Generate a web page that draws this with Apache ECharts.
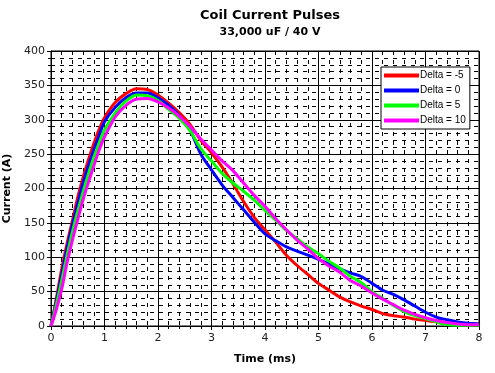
<!DOCTYPE html>
<html>
<head>
<meta charset="utf-8">
<script src="https://cdn.jsdelivr.net/npm/echarts@6/dist/echarts.min.js"></script>
<style>
html,body{margin:0;padding:0;background:#fff;}
#chart{width:495px;height:373px;}
</style>
</head>
<body>
<div id="chart"></div>
<script>
var times = [0, 0.1, 0.2, 0.3, 0.4, 0.5, 0.6, 0.7, 0.8, 0.9, 1.0, 1.2, 1.4, 1.6, 1.8, 2.0, 2.2, 2.4, 2.6, 2.8, 3.0, 3.2, 3.4, 3.6, 3.8, 4.0, 4.2, 4.4, 4.6, 4.8, 5.0, 5.2, 5.4, 5.6, 5.8, 6.0, 6.2, 6.4, 6.6, 6.8, 7.0, 7.2, 7.4, 7.6, 7.8, 8.0];
var deltaMinus5 = [0, 40, 83, 120, 153, 187, 216, 242, 265, 286, 303, 325, 338, 345, 344, 336, 324, 310, 293, 270, 252, 231, 207, 181, 158, 140, 122, 103, 88, 75, 62, 52, 42, 35, 29, 24, 18, 15, 13, 10, 8, 6, 4, 3, 3, 3];
var delta0 = [0, 36, 75, 113, 147, 178, 208, 233, 256, 277, 297, 318, 332, 339, 339, 332, 321, 306, 285, 250, 227, 205, 187, 169, 151, 134, 124, 115, 109, 103, 97, 90, 83, 77, 72, 62, 52, 46, 38, 29, 20, 13, 9, 6, 4, 3];
var delta5 = [0, 31, 66, 103, 137, 167, 195, 221, 245, 266, 285, 310, 327, 336, 335, 328, 315, 302, 284, 258, 240, 222, 208, 196, 183, 168, 154, 139, 127, 115, 105, 94, 84, 72, 63, 50, 40, 30, 21, 15, 11, 6, 2, 1, 1, 1];
var delta10 = [0, 24, 54, 92, 125, 155, 184, 209, 233, 256, 275, 304, 321, 330, 331, 326, 317, 305, 290, 272, 256, 240, 226, 208, 190, 174, 156, 140, 125, 112, 98, 87, 78, 66, 58, 48, 39, 31, 23, 17, 12, 8, 5, 3, 2, 2];
var seriesNames = ['Delta = -5', 'Delta = 0', 'Delta = 5', 'Delta = 10'];
var seriesColors = ['#ff0000', '#0000ff', '#00ff00', '#ff00ff'];
var xTicks = [0, 1, 2, 3, 4, 5, 6, 7, 8];
var yTicks = [0, 50, 100, 150, 200, 250, 300, 350, 400];

function pairs(vals) {
  return times.map(function (t, i) { return [t, vals[i]]; });
}
var allVals = [deltaMinus5, delta0, delta5, delta10];

var chart = echarts.init(document.getElementById('chart'), null, {renderer: 'canvas'});
var FONT = 'DejaVu Sans';
var option = {
  animation: false,
  backgroundColor: '#fff',
  title: [
    {text: 'Coil Current Pulses', left: 265, top: 4, textAlign: 'center',
     textStyle: {fontFamily: FONT, fontWeight: 'bold', fontSize: 13, color: '#000'}},
    {text: '33,000 uF / 40 V', left: 265, top: 22, textAlign: 'center',
     textStyle: {fontFamily: FONT, fontWeight: 'bold', fontSize: 11, color: '#000'}}
  ],
  legend: {
    orient: 'vertical',
    left: 381, top: 67,
    backgroundColor: '#fff',
    borderColor: '#000', borderWidth: 1, borderRadius: 0,
    padding: [3, 4, 3, 3],
    itemWidth: 35, itemHeight: 4, itemGap: 4,
    icon: 'rect',
    textStyle: {fontFamily: 'Liberation Sans', fontSize: 10, color: '#000', padding: [0, 0, 0, -4], lineHeight: 11},
    data: seriesNames
  },
  grid: {
    left: 51, right: 16, top: 51, height: 275,
    containLabel: false, outerBoundsMode: 'none',
    show: true, borderColor: '#000', borderWidth: 1, backgroundColor: 'transparent'
  },
  xAxis: {
    type: 'value', min: 0, max: 8, interval: 1,
    name: 'Time (ms)', nameLocation: 'middle', nameGap: 28,
    nameTextStyle: {fontFamily: FONT, fontWeight: 'bold', fontSize: 11, color: '#000'},
    axisLine: {show: true, lineStyle: {color: '#000', width: 1}},
    axisTick: {show: true, length: 4, lineStyle: {color: '#000'}},
    minorTick: {show: true, splitNumber: 5, length: 3, lineStyle: {color: '#000'}},
    axisLabel: {fontFamily: FONT, fontSize: 11, color: '#222', margin: 7,
      formatter: function (v) { return xTicks.indexOf(v) >= 0 ? String(v) : ''; }},
    splitLine: {show: true, lineStyle: {color: '#000', width: 1}},
    minorSplitLine: {show: true, lineStyle: {color: '#000', width: 1, type: [4, 5]}}
  },
  yAxis: {
    type: 'value', min: 0, max: 400, interval: 50,
    name: 'Current (A)', nameLocation: 'middle', nameGap: 34, nameRotate: 90,
    nameTextStyle: {fontFamily: FONT, fontWeight: 'bold', fontSize: 11, color: '#000'},
    axisLine: {show: true, lineStyle: {color: '#000', width: 1}},
    axisTick: {show: true, length: 4, lineStyle: {color: '#000'}},
    minorTick: {show: true, splitNumber: 5, length: 3, lineStyle: {color: '#000'}},
    axisLabel: {fontFamily: FONT, fontSize: 11, color: '#222', margin: 6,
      formatter: function (v) { return yTicks.indexOf(v) >= 0 ? String(v) : ''; }},
    splitLine: {show: true, lineStyle: {color: '#000', width: 1}},
    minorSplitLine: {show: true, lineStyle: {color: '#000', width: 1, type: [4, 5]}}
  },
  series: seriesNames.map(function (n, i) {
    return {
      name: n, type: 'line', data: pairs(allVals[i]),
      showSymbol: false, symbol: 'none', smooth: 0.3,
      color: seriesColors[i],
      lineStyle: {color: seriesColors[i], width: 3},
      z: 2 + i
    };
  })
};
chart.setOption(option);
</script>
</body>
</html>
